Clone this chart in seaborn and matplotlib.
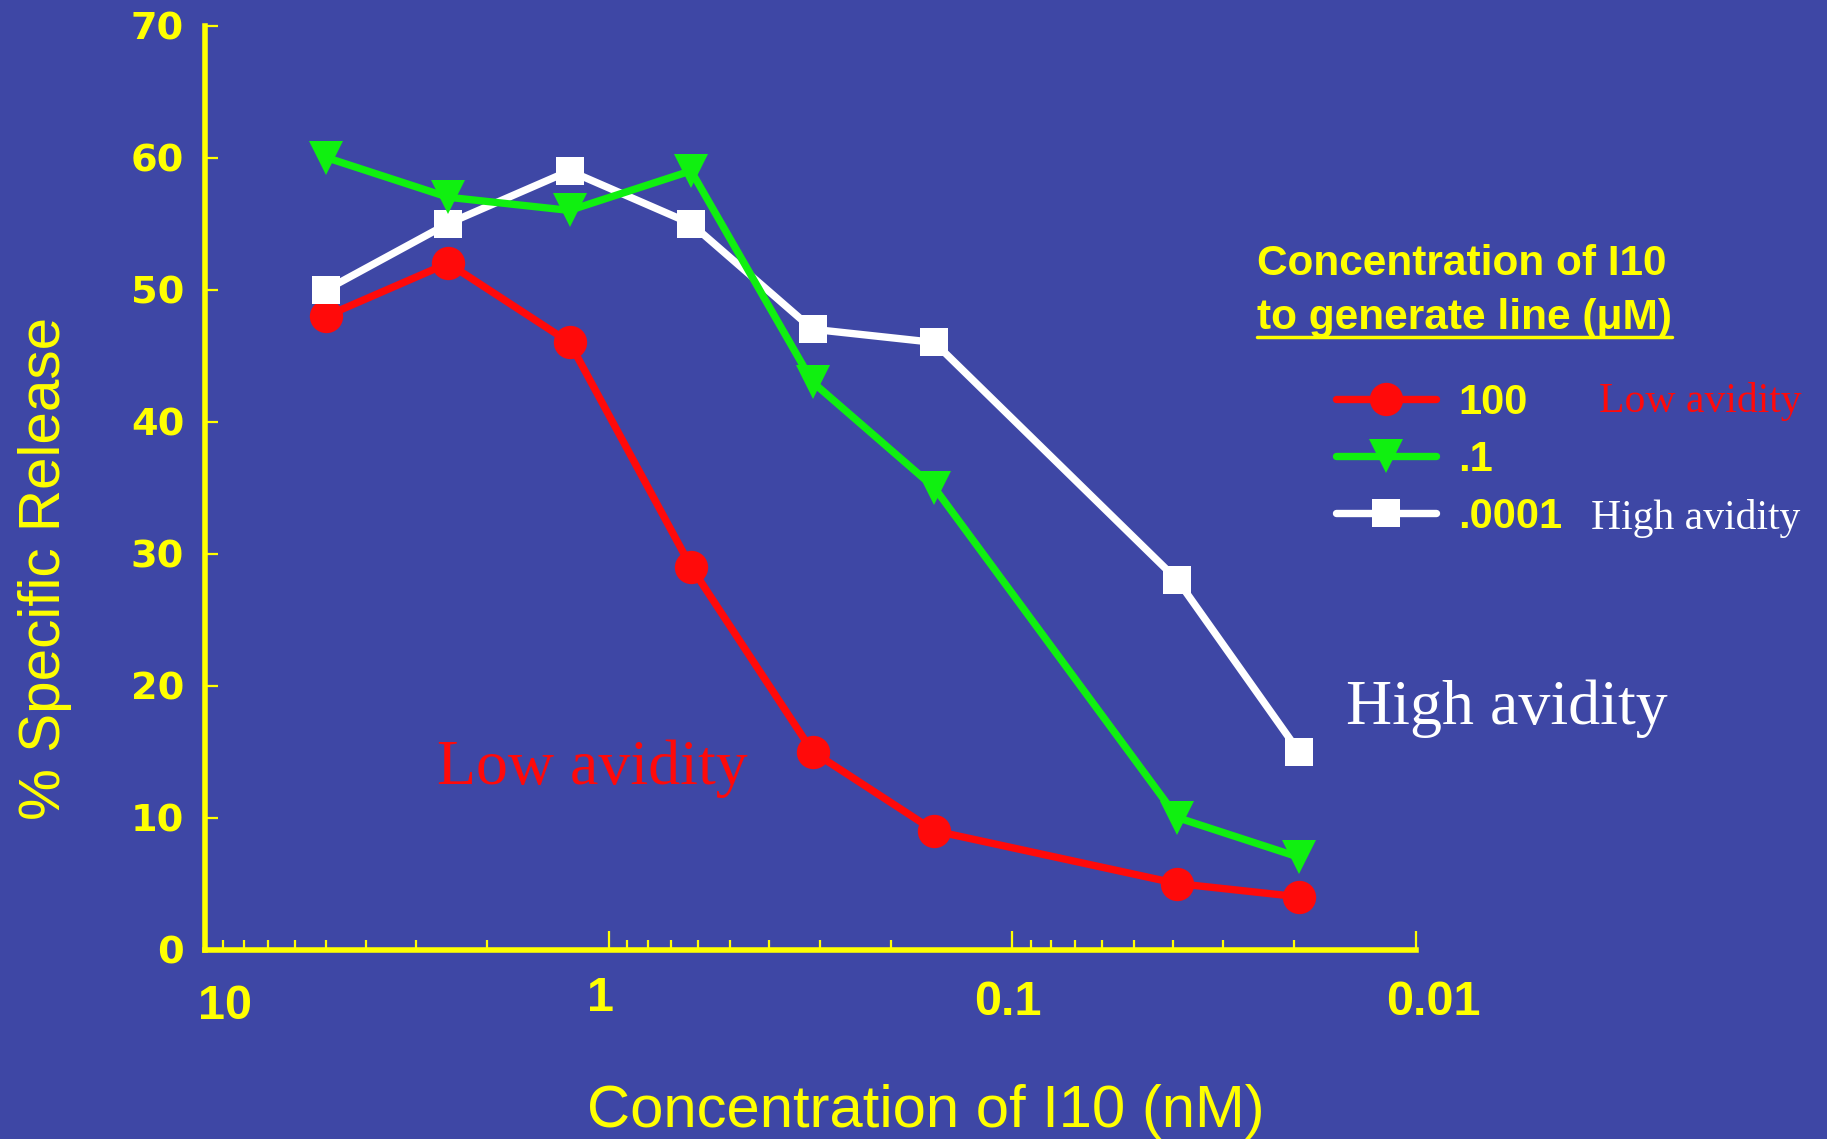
import numpy as np
import pandas as pd
import matplotlib
matplotlib.use("Agg")
import matplotlib.pyplot as plt
import matplotlib.ticker as mticker
from matplotlib.lines import Line2D
from matplotlib.transforms import ScaledTranslation
import seaborn as sns

# ---------------- data ----------------
conc_nM = [5, 2.5, 1.25, 0.625, 0.3125, 0.156, 0.039, 0.0195]
release_100 = [48, 52, 46, 29, 15, 9, 5, 4]
release_01 = [60, 57, 56, 59, 43, 35, 10, 7]
release_00001 = [50, 55, 59, 55, 47, 46, 28, 15]
series_labels = ["100", ".1", ".0001"]
x_ticks = [10, 1, 0.1, 0.01]
x_tick_labels = ["10", "1", "0.1", "0.01"]
y_ticks = [0, 10, 20, 30, 40, 50, 60, 70]
y_tick_labels = ["0", "10", "20", "30", "40", "50", "60", "70"]

BG = "#3E47A5"
YEL = "#FFFF00"
RED = "#FF0A0A"
GRN = "#10F010"
WHT = "#FFFFFF"

sns.set_theme(style="ticks")
plt.rcParams["font.family"] = ["Liberation Sans", "DejaVu Sans"]

df = pd.DataFrame({
    "conc": conc_nM * 3,
    "release": release_100 + release_01 + release_00001,
    "line": [series_labels[0]] * len(conc_nM) + [series_labels[1]] * len(conc_nM)
            + [series_labels[2]] * len(conc_nM),
})

styles = {
    "100": dict(color=RED, marker="o", markersize=24),
    ".1": dict(color=GRN, marker="v", markersize=24),
    ".0001": dict(color=WHT, marker="s", markersize=20.5),
}
LW = 5.3

fig = plt.figure(figsize=(18.27, 11.39), dpi=100, facecolor=BG)
ax = fig.add_axes([0.1122, 0.1663, 0.6628, 0.8112])
ax.set_facecolor(BG)

for lab in ["100", ".0001", ".1"]:
    st = styles[lab]
    sub = df[df["line"] == lab]
    sns.lineplot(data=sub, x="conc", y="release", ax=ax, color=st["color"],
                 marker=st["marker"], markersize=st["markersize"],
                 markeredgecolor=st["color"], markeredgewidth=0,
                 linewidth=LW, legend=False, estimator=None, sort=False,
                 errorbar=None)

ax.set_xscale("log")
ax.set_xlim(10, 0.01)
ax.set_ylim(0, 70)

ax.xaxis.set_major_locator(mticker.FixedLocator(x_ticks))
ax.xaxis.set_major_formatter(mticker.FixedFormatter(x_tick_labels))
ax.xaxis.set_minor_locator(mticker.LogLocator(base=10, subs=np.arange(2, 10)))
ax.xaxis.set_minor_formatter(mticker.NullFormatter())
ax.yaxis.set_major_locator(mticker.FixedLocator(y_ticks))
ax.yaxis.set_major_formatter(mticker.FixedFormatter(y_tick_labels))

for s in ["top", "right"]:
    ax.spines[s].set_visible(False)
for s in ["left", "bottom"]:
    ax.spines[s].set_color(YEL)
    ax.spines[s].set_linewidth(4)

ax.tick_params(axis="x", which="major", direction="in", length=13.5, width=1.6,
               color=YEL, labelcolor=YEL, pad=22)
ax.tick_params(axis="x", which="minor", direction="in", length=7, width=1.6, color=YEL)
ax.tick_params(axis="y", which="major", direction="in", length=9.5, width=1.6,
               color=YEL, labelcolor=YEL, pad=15)

for t in ax.get_xticklabels():
    t.set_fontfamily("Liberation Sans")
    t.set_fontweight("bold")
    t.set_fontsize(35)
for t in ax.get_yticklabels():
    t.set_fontfamily("DejaVu Sans")
    t.set_fontweight("bold")
    t.set_fontsize(27.5)

# small per-label shifts as in the original slide
offs = {"10": (20, -4), "1": (-8, 4), "0.1": (-4, 0), "0.01": (17, 0)}
for t, lab in zip(ax.get_xticklabels(), x_tick_labels):
    dx, dy = offs[lab]
    t.set_transform(t.get_transform() + ScaledTranslation(dx / 100, dy / 100, fig.dpi_scale_trans))

ax.set_xlabel("Concentration of I10 (nM)", color=YEL, fontsize=43)
ax.set_ylabel("% Specific Release", color=YEL, fontsize=42)
ax.xaxis.set_label_coords(0.595, -0.1455)
ax.yaxis.set_label_coords(-0.110, 0.413)

# annotations
ax.text(0.192, 0.179, "Low avidity", transform=ax.transAxes, color=RED,
        fontsize=46, family="Liberation Serif", va="baseline", ha="left")
ax.text(0.942, 0.2446, "High avidity", transform=ax.transAxes, color=WHT,
        fontsize=46, family="Liberation Serif", va="baseline", ha="left")

# legend title (two lines, second underlined)
fig.text(0.688, 0.7586, "Concentration of I10", color=YEL, fontsize=30.5,
         fontweight="bold", va="baseline", ha="left")
t2 = fig.text(0.688, 0.7115, "to generate line (\u03bcM)", color=YEL, fontsize=30.5,
              fontweight="bold", va="baseline", ha="left")
fig.canvas.draw()
bb = t2.get_window_extent().transformed(fig.transFigure.inverted())
fig.add_artist(Line2D([bb.x0, bb.x1], [0.7044, 0.7044], color=YEL, lw=2.5,
                      transform=fig.transFigure))

handles = [Line2D([], [], color=styles[l]["color"], marker=styles[l]["marker"],
                  markersize=styles[l]["markersize"], markeredgewidth=0,
                  linewidth=LW) for l in series_labels]
leg = ax.legend(handles, series_labels, loc="upper left",
                bbox_to_anchor=(0.7315, 0.664), bbox_transform=fig.transFigure,
                frameon=False, borderpad=0, borderaxespad=0, handlelength=2.38,
                handletextpad=0.55, labelspacing=0.41,
                prop={"weight": "bold", "size": 30, "family": "Liberation Sans"})
for txt in leg.get_texts():
    txt.set_color(YEL)

fig.text(0.875, 0.638, "Low avidity", color=RED, fontsize=30,
         family="Liberation Serif", va="baseline", ha="left")
fig.text(0.871, 0.5355, "High avidity", color=WHT, fontsize=30,
         family="Liberation Serif", va="baseline", ha="left")

fig.savefig("out.png", dpi=100, facecolor=BG)
